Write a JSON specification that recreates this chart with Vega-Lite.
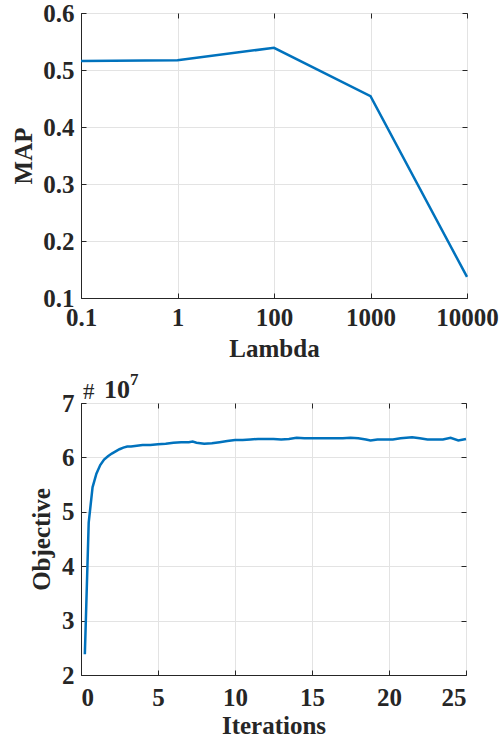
{
  "$schema": "https://vega.github.io/schema/vega-lite/v6.json",
  "background": "white",
  "padding": {"left": 11, "top": 0, "right": 2, "bottom": 1},
  "spacing": 8,
  "config": {
    "font": "Liberation Serif",
    "view": {"stroke": "#262626", "strokeWidth": 1},
    "axis": {
      "labelFont": "Liberation Serif",
      "labelFontWeight": "bold",
      "labelFontSize": 25,
      "labelColor": "#262626",
      "titleFont": "Liberation Serif",
      "titleFontWeight": "bold",
      "titleFontSize": 25,
      "titleColor": "#262626",
      "gridColor": "#e3e3e3",
      "gridWidth": 1,
      "domainColor": "#262626",
      "tickColor": "#262626",
      "tickSize": -5,
      "labelPadding": 12
    }
  },
  "vconcat": [
    {
      "width": 386,
      "height": 285,
      "data": {"values": [
        {"lambda": "0.1", "map": 0.516},
        {"lambda": "1", "map": 0.517},
        {"lambda": "100", "map": 0.539},
        {"lambda": "1000", "map": 0.454},
        {"lambda": "10000", "map": 0.137}
      ]},
      "resolve": {"axis": {"x": "independent", "y": "independent"}},
      "layer": [
        {
          "mark": {"type": "line", "color": "#0072BD", "strokeWidth": 2.5},
          "encoding": {
            "x": {"field": "lambda", "type": "ordinal", "sort": null,
                  "scale": {"type": "point", "padding": 0},
                  "axis": {"title": "Lambda", "labelAngle": 0, "grid": true, "titlePadding": 6}},
            "y": {"field": "map", "type": "quantitative",
                  "scale": {"domain": [0.1, 0.6], "nice": false},
                  "axis": {"title": "MAP", "values": [0.1, 0.2, 0.3, 0.4, 0.5, 0.6], "format": ".1f", "grid": true, "titlePadding": 6}}
          }
        },
        {
          "mark": {"type": "line", "strokeOpacity": 0},
          "encoding": {
            "x": {"field": "lambda", "type": "ordinal", "sort": null,
                  "axis": {"orient": "top", "labels": false, "title": null, "grid": false, "domain": false}},
            "y": {"field": "map", "type": "quantitative",
                  "axis": {"orient": "right", "labels": false, "title": null, "grid": false, "domain": false, "values": [0.1, 0.2, 0.3, 0.4, 0.5, 0.6]}}
          }
        }
      ]
    },
    {
      "width": 385,
      "height": 272,
      "data": {"values": [
        {"iter": 0.25, "obj": 2.38},
        {"iter": 0.5, "obj": 4.8},
        {"iter": 0.75, "obj": 5.45},
        {"iter": 1.0, "obj": 5.7},
        {"iter": 1.25, "obj": 5.86},
        {"iter": 1.5, "obj": 5.96},
        {"iter": 1.75, "obj": 6.02},
        {"iter": 2.0, "obj": 6.07},
        {"iter": 2.25, "obj": 6.11},
        {"iter": 2.5, "obj": 6.15},
        {"iter": 2.75, "obj": 6.18},
        {"iter": 3.0, "obj": 6.2},
        {"iter": 3.25, "obj": 6.2},
        {"iter": 3.5, "obj": 6.21},
        {"iter": 3.75, "obj": 6.22},
        {"iter": 4.0, "obj": 6.23},
        {"iter": 4.5, "obj": 6.23},
        {"iter": 5.0, "obj": 6.24},
        {"iter": 5.5, "obj": 6.25},
        {"iter": 6.0, "obj": 6.27},
        {"iter": 6.5, "obj": 6.28},
        {"iter": 7.0, "obj": 6.28},
        {"iter": 7.25, "obj": 6.29},
        {"iter": 7.5, "obj": 6.27},
        {"iter": 8.0, "obj": 6.25},
        {"iter": 8.5, "obj": 6.26},
        {"iter": 9.0, "obj": 6.28},
        {"iter": 9.5, "obj": 6.3},
        {"iter": 10.0, "obj": 6.32},
        {"iter": 10.5, "obj": 6.32},
        {"iter": 11.0, "obj": 6.33},
        {"iter": 11.5, "obj": 6.34},
        {"iter": 12.0, "obj": 6.34},
        {"iter": 12.5, "obj": 6.34},
        {"iter": 13.0, "obj": 6.33},
        {"iter": 13.5, "obj": 6.34},
        {"iter": 14.0, "obj": 6.36},
        {"iter": 14.5, "obj": 6.35},
        {"iter": 15.0, "obj": 6.35},
        {"iter": 15.5, "obj": 6.35},
        {"iter": 16.0, "obj": 6.35},
        {"iter": 16.5, "obj": 6.35},
        {"iter": 17.0, "obj": 6.35},
        {"iter": 17.5, "obj": 6.36},
        {"iter": 18.0, "obj": 6.35},
        {"iter": 18.5, "obj": 6.33},
        {"iter": 18.8, "obj": 6.31},
        {"iter": 19.25, "obj": 6.33},
        {"iter": 19.75, "obj": 6.33},
        {"iter": 20.25, "obj": 6.33},
        {"iter": 20.75, "obj": 6.35},
        {"iter": 21.5, "obj": 6.37},
        {"iter": 22.0, "obj": 6.35},
        {"iter": 22.5, "obj": 6.33},
        {"iter": 23.0, "obj": 6.33},
        {"iter": 23.5, "obj": 6.33},
        {"iter": 24.0, "obj": 6.36},
        {"iter": 24.5, "obj": 6.31},
        {"iter": 25.0, "obj": 6.34}
      ]},
      "resolve": {"axis": {"x": "independent", "y": "independent"}},
      "layer": [
        {
          "mark": {"type": "line", "color": "#0072BD", "strokeWidth": 2.5},
          "encoding": {
            "x": {"field": "iter", "type": "quantitative",
                  "scale": {"domain": [0, 25], "nice": false},
                  "axis": {"title": "Iterations", "values": [0, 5, 10, 15, 20, 25], "grid": true, "labelPadding": 15, "titlePadding": 3}},
            "y": {"field": "obj", "type": "quantitative",
                  "scale": {"domain": [2, 7], "nice": false},
                  "axis": {"title": "Objective", "values": [2, 3, 4, 5, 6, 7], "grid": true, "titlePadding": 7}}
          }
        },
        {
          "mark": {"type": "line", "strokeOpacity": 0},
          "encoding": {
            "x": {"field": "iter", "type": "quantitative",
                  "axis": {"orient": "top", "labels": false, "title": null, "grid": false, "domain": false, "values": [0, 5, 10, 15, 20, 25]}},
            "y": {"field": "obj", "type": "quantitative",
                  "axis": {"orient": "right", "labels": false, "title": null, "grid": false, "domain": false, "values": [2, 3, 4, 5, 6, 7]}}
          }
        },
        {
          "data": {"values": [{"t": "#"}]},
          "mark": {"type": "text", "font": "Liberation Serif", "fontSize": 23, "color": "#262626", "align": "left", "baseline": "alphabetic", "dx": 2, "dy": -4, "clip": false},
          "encoding": {
            "x": {"datum": 0, "type": "quantitative", "axis": null},
            "y": {"datum": 7, "type": "quantitative", "axis": null},
            "text": {"field": "t"}
          }
        },
        {
          "data": {"values": [{"t": "10"}]},
          "mark": {"type": "text", "font": "Liberation Serif", "fontSize": 26, "fontWeight": "bold", "color": "#262626", "align": "left", "baseline": "alphabetic", "dx": 23, "dy": -5, "clip": false},
          "encoding": {
            "x": {"datum": 0, "type": "quantitative", "axis": null},
            "y": {"datum": 7, "type": "quantitative", "axis": null},
            "text": {"field": "t"}
          }
        },
        {
          "data": {"values": [{"t": "7"}]},
          "mark": {"type": "text", "font": "Liberation Serif", "fontSize": 17, "fontWeight": "bold", "color": "#262626", "align": "left", "baseline": "alphabetic", "dx": 49, "dy": -18, "clip": false},
          "encoding": {
            "x": {"datum": 0, "type": "quantitative", "axis": null},
            "y": {"datum": 7, "type": "quantitative", "axis": null},
            "text": {"field": "t"}
          }
        }
      ]
    }
  ]
}
